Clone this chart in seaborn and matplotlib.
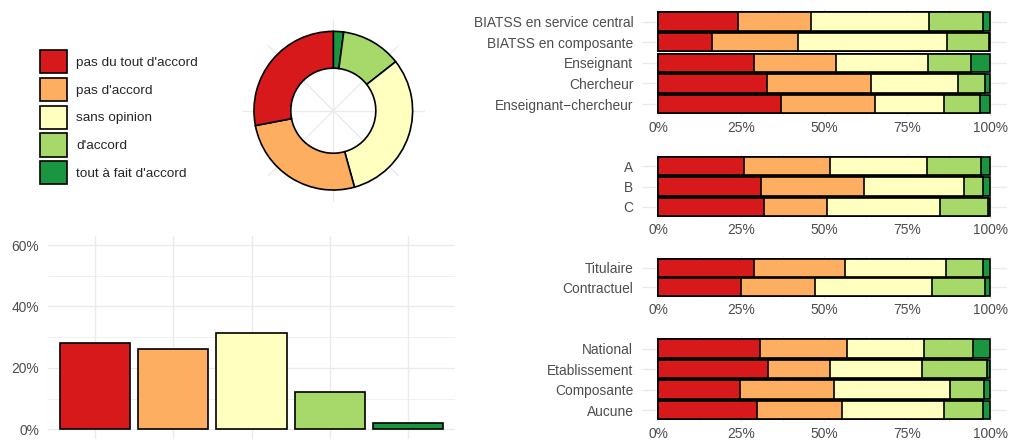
import numpy as np
import pandas as pd
import seaborn as sns
import matplotlib.pyplot as plt
from matplotlib.patches import Patch
from matplotlib.ticker import FuncFormatter, MultipleLocator

# --- data (percent) ---
levels = ["pas du tout d'accord", "pas d'accord", "sans opinion", "d'accord", "tout à fait d'accord"]
colors = ["#d7191c", "#fdae61", "#ffffbf", "#a6d96a", "#1a9641"]

overall = [28.0, 26.3, 31.3, 12.3, 2.1]

statut_labels = ["BIATSS en service central", "BIATSS en composante", "Enseignant",
                 "Chercheur", "Enseignant\u2212chercheur"]
statut_values = [[23.9, 22.0, 35.7, 16.2, 2.2],
                 [16.2, 25.8, 44.9, 12.7, 0.4],
                 [29.0, 24.6, 27.6, 13.1, 5.7],
                 [32.8, 31.2, 26.2, 8.2, 1.6],
                 [37.0, 28.2, 20.9, 10.9, 3.0]]

cat_labels = ["A", "B", "C"]
cat_values = [[25.9, 25.9, 29.1, 16.4, 2.7],
              [31.0, 30.9, 30.3, 5.8, 2.0],
              [32.0, 18.8, 34.1, 14.4, 0.7]]

contrat_labels = ["Titulaire", "Contractuel"]
contrat_values = [[28.8, 27.6, 30.2, 11.3, 2.1],
                  [24.9, 22.3, 35.2, 16.1, 1.5]]

resp_labels = ["National", "Etablissement", "Composante", "Aucune"]
resp_values = [[30.7, 26.2, 23.2, 14.7, 5.2],
               [33.2, 18.6, 27.7, 19.6, 0.9],
               [24.6, 28.4, 34.9, 10.3, 1.8],
               [29.7, 25.8, 30.7, 11.8, 2.0]]

sns.set_theme(style="white")
plt.rcParams['font.family'] = ['Liberation Sans', 'DejaVu Sans']

W, H = 1009, 440
fig = plt.figure(figsize=(W / 100, H / 100), dpi=100)

def px_axes(x0, y0, x1, y1):
    return fig.add_axes([x0 / W, 1 - y1 / H, (x1 - x0) / W, (y1 - y0) / H])

grid_col = "#ebebeb"
tick_col = "#4d4d4d"
fs = 9.9
pct = FuncFormatter(lambda v, p: f"{v*100:.0f}%")

def clean(ax):
    for s in ax.spines.values():
        s.set_visible(False)
    ax.tick_params(length=0, colors=tick_col, labelsize=fs)

# --- stacked horizontal panels ---
panels = [(statut_labels, statut_values, 9.2, 116.4),
          (cat_labels, cat_values, 154.3, 218.7),
          (contrat_labels, contrat_values, 256.4, 298.6),
          (resp_labels, resp_values, 336.2, 422.4)]

for labels, values, y0, y1 in panels:
    ax = px_axes(641.7, y0, 1006.6, y1)
    vals = np.array(values) / 100.0
    cum = np.cumsum(vals, axis=1)
    for k in range(len(levels) - 1, -1, -1):
        sns.barplot(x=cum[:, k], y=labels, color=colors[k], saturation=1,
                    edgecolor="black", linewidth=1.2, width=0.9, orient="h", ax=ax, zorder=3)
    n = len(labels)
    ax.set_xlim(-0.05, 1.05)
    ax.set_ylim(n - 1 + 0.6, -0.6)
    ax.xaxis.set_major_locator(MultipleLocator(0.25))
    ax.xaxis.set_minor_locator(MultipleLocator(0.125))
    ax.xaxis.set_major_formatter(pct)
    ax.grid(True, which="major", color=grid_col, lw=1.0, zorder=0)
    ax.grid(True, which="minor", axis="x", color=grid_col, lw=0.5, zorder=0)
    ax.set_axisbelow(True)
    ax.set_xlabel("")
    ax.set_ylabel("")
    clean(ax)
    ax.tick_params(axis="y", pad=6)
    ax.tick_params(axis="x", pad=3)

# --- bar chart of overall distribution ---
axb = px_axes(48, 235.8, 455, 438.5)
dfo = pd.DataFrame({"niveau": levels, "part": np.array(overall) / 100.0})
sns.barplot(data=dfo, x="niveau", y="part", hue="niveau", palette=colors, saturation=1,
            edgecolor="black", linewidth=1.2, width=0.9, legend=False, ax=axb, zorder=3)
axb.set_xlim(-0.6, 4.6)
axb.set_ylim(-0.03, 0.63)
axb.yaxis.set_major_locator(MultipleLocator(0.2))
axb.yaxis.set_minor_locator(MultipleLocator(0.1))
axb.yaxis.set_major_formatter(pct)
axb.grid(True, which="major", color=grid_col, lw=1.0, zorder=0)
axb.grid(True, which="minor", axis="y", color=grid_col, lw=0.5, zorder=0)
axb.set_axisbelow(True)
axb.set_xticklabels([])
axb.set_xlabel("")
axb.set_ylabel("")
clean(axb)
axb.tick_params(axis="y", pad=6.5)

# --- donut ---
axd = px_axes(333.3 - 91.7, 110.7 - 91.7, 333.3 + 91.7, 110.7 + 91.7)
for a in np.deg2rad(np.arange(0, 360, 45)):
    axd.plot([0, np.cos(a) * 1.156], [0, np.sin(a) * 1.156], color=grid_col, lw=1.0, zorder=0)
axd.pie(overall[::-1], colors=colors[::-1], startangle=90, counterclock=False, radius=1,
        wedgeprops=dict(width=0.464, edgecolor="black", linewidth=1.2))
axd.set_xlim(-1.156, 1.156)
axd.set_ylim(-1.156, 1.156)
axd.set_aspect("equal")
axd.axis("off")

# --- legend ---
handles = [Patch(facecolor=c, edgecolor="black", linewidth=1.2) for c in colors]
fig.legend(handles, levels, loc="upper left", bbox_to_anchor=(36 / W, 1 - 46 / H),
           frameon=False, fontsize=9.7, handlelength=2.0, handleheight=2.3,
           labelspacing=0.32, handletextpad=0.7, borderaxespad=0, borderpad=0.3)

fig.savefig("out.png", dpi=100)
